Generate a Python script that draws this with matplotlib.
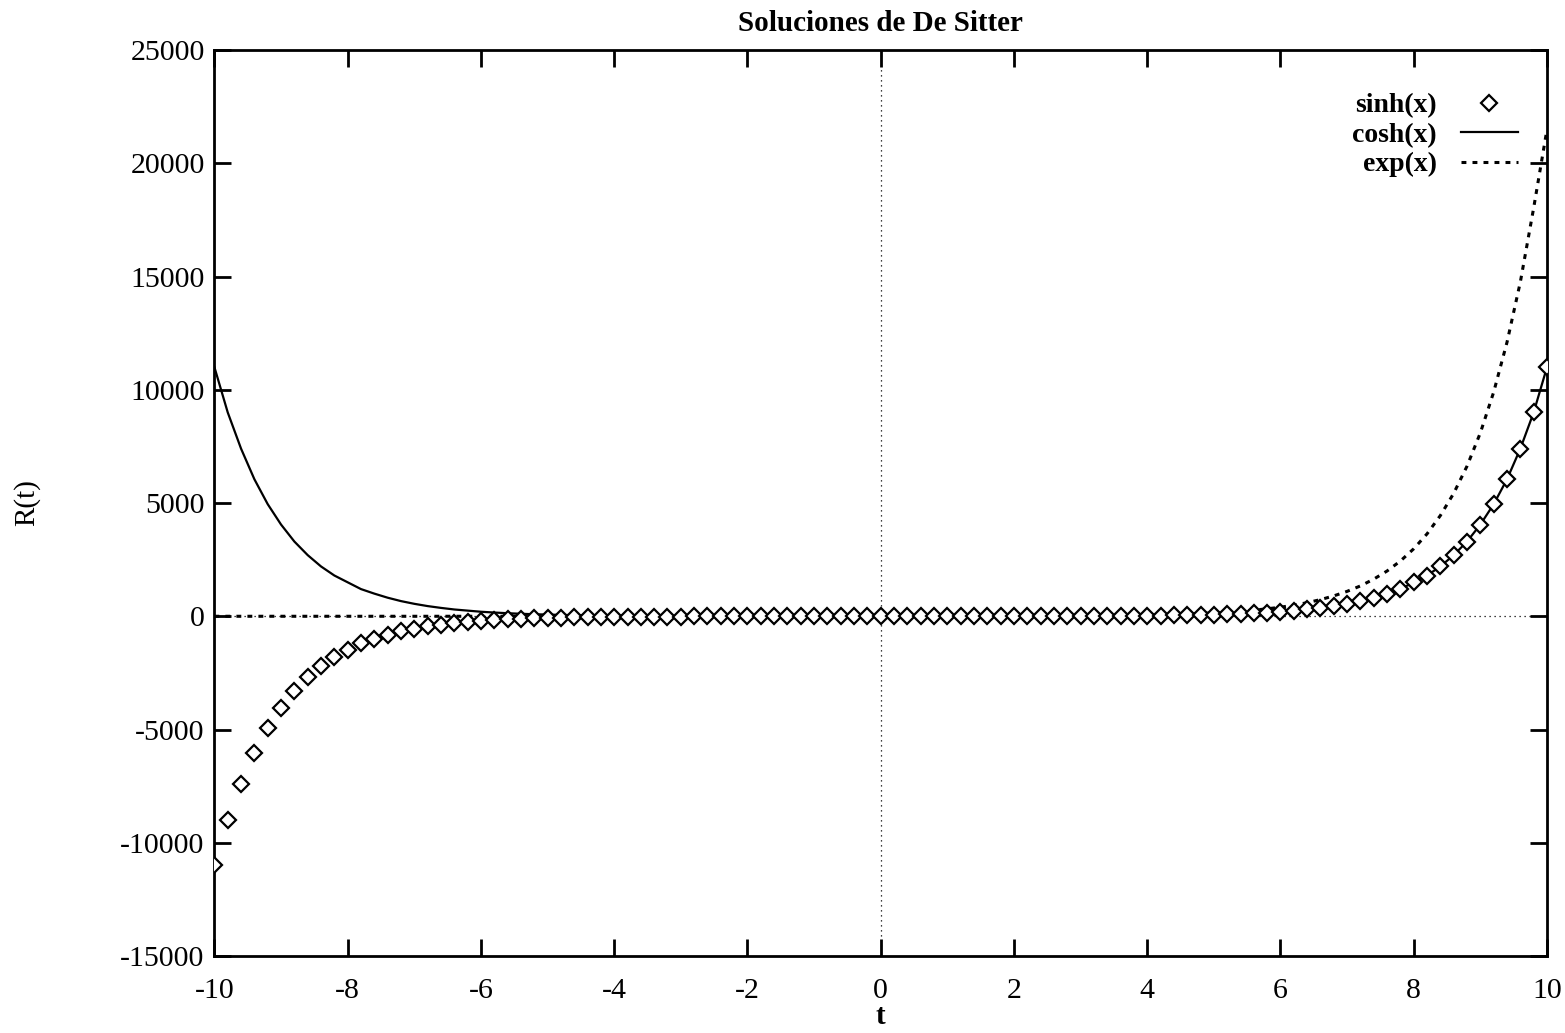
import numpy as np
import matplotlib
matplotlib.use('Agg')
import matplotlib.pyplot as plt

# sample grid (101 points, -10 .. 10)
t = np.linspace(-10, 10, 101)

# values
sinh_vals = [-11000, -9000, -7400, -6050, -4950, -4050, -3300, -2700, -2200, -1800,
             -1500, -1200, -1000, -820, -670, -550, -450, -370, -300, -250,
             -200, -165, -135, -110, -90, -75, -60, -50, -40, -33,
             -27, -22, -18, -15, -12, -10, -8, -7, -5, -4,
             -4, -3, -2, -2, -1, -1, -1, 0, 0, 0,
             0,
             0, 0, 0, 1, 1, 1, 2, 2, 3, 4,
             4, 5, 7, 8, 10, 12, 15, 18, 22, 27,
             33, 40, 50, 60, 75, 90, 110, 135, 165, 200,
             250, 300, 370, 450, 550, 670, 820, 1000, 1200, 1500,
             1800, 2200, 2700, 3300, 4050, 4950, 6050, 7400, 9000, 11000]
cosh_vals = [11000, 9000, 7400, 6050, 4950, 4050, 3300, 2700, 2200, 1800,
             1500, 1200, 1000, 820, 670, 550, 450, 370, 300, 250,
             200, 165, 135, 110, 90, 75, 60, 50, 40, 33,
             27, 22, 18, 15, 12, 10, 8, 7, 5, 4,
             4, 3, 2, 2, 2, 2, 1, 1, 1, 1,
             1,
             1, 1, 1, 1, 2, 2, 2, 2, 3, 4,
             4, 5, 7, 8, 10, 12, 15, 18, 22, 27,
             33, 40, 50, 60, 75, 90, 110, 135, 165, 200,
             250, 300, 370, 450, 550, 670, 820, 1000, 1200, 1500,
             1800, 2200, 2700, 3300, 4050, 4950, 6050, 7400, 9000, 11000]
exp_vals = [0] * 40 + [0, 0, 0, 0, 0, 0, 0, 0, 0, 0,
             1,
             1, 1, 2, 2, 2, 3, 3, 4, 5, 7,
             8, 10, 13, 16, 20, 25, 30, 36, 45, 55,
             67, 81, 100, 120, 150, 180, 220, 270, 330, 400,
             490, 600, 735, 900, 1100, 1340, 1640, 2000, 2440, 2980,
             3640, 4450, 5430, 6630, 8100, 9900, 12100, 14760, 18030, 21500]

plt.rcParams['font.family'] = ['Liberation Serif', 'DejaVu Serif']
plt.rcParams['axes.unicode_minus'] = False

fig = plt.figure(figsize=(15.65, 10.33), dpi=100)
ax = fig.add_axes([0.137, 0.0745, 0.8515, 0.8771])

ax.axhline(0, color='black', lw=0.9, ls=(0, (1, 3)), zorder=1)
ax.axvline(0, color='black', lw=0.9, ls=(0, (1, 3)), zorder=1)

ax.plot(t, sinh_vals, ls='none', marker='D', ms=8, mfc='white', mec='black',
        mew=1.6, label='sinh(x)', zorder=3)
ax.plot(t, cosh_vals, color='black', lw=1.6, label='cosh(x)', zorder=2)
ax.plot(t, exp_vals, color='black', lw=2.2, ls=(0, (1.6, 2)), label='exp(x)', zorder=2)

ax.set_xlim(-10, 10)
ax.set_ylim(-15000, 25000)
ax.set_xticks(np.arange(-10, 11, 2))
ax.set_yticks(np.arange(-15000, 25001, 5000))
ax.tick_params(direction='in', length=12, width=2, top=True, right=True,
               labelsize=21.5)
ax.tick_params(axis='x', pad=16)
ax.tick_params(axis='y', pad=7)
for s in ax.spines.values():
    s.set_linewidth(2)

ax.set_title('Soluciones de De Sitter', fontsize=21, fontweight='bold', pad=14)
ax.set_xlabel('t', fontsize=21, fontweight='bold')
ax.xaxis.set_label_coords(0.5, -0.052)
ax.set_ylabel('R(t)', fontsize=21)
ax.yaxis.set_label_coords(-0.1305, 0.5)

ax.legend(loc='upper right', bbox_to_anchor=(0.9865, 0.965), frameon=False,
          markerfirst=False, prop={'size': 20, 'weight': 'bold'},
          handlelength=2.05, handletextpad=0.86, labelspacing=0.15,
          borderaxespad=0)

plt.savefig('out.png', dpi=100)
